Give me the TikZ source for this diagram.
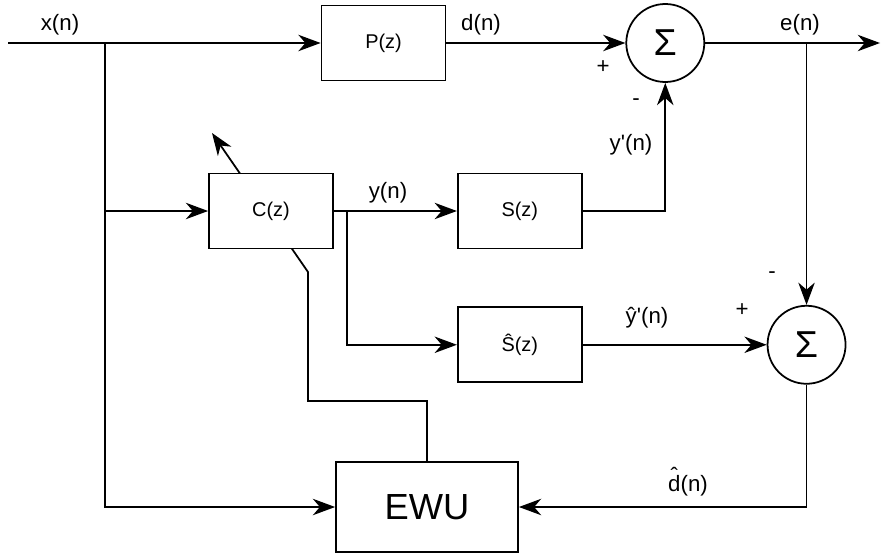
\documentclass[tikz,border=0pt]{standalone}
\usepackage{fontspec}
\setmainfont{Liberation Sans}
\usepackage{tikz}
\usetikzlibrary{arrows.meta, positioning, backgrounds}
\tikzstyle{block} = [rectangle, minimum width=3.72cm, minimum height=2.25cm, text centered, draw=black, fill=white, line width=1.5pt, font=\fontsize{17}{20}\selectfont]
\tikzstyle{sumnode} = [circle, minimum size=2.34cm, inner sep=0pt, draw=black, fill=white, line width=1.5pt, font=\fontsize{32}{36}\selectfont]
\tikzstyle{arrow} = [line width=1.5pt, -{Stealth[length=19pt, width=14pt, inset=6pt]}]
\tikzstyle{signal} = [font=\fontsize{19}{22}\selectfont]
\tikzstyle{sign} = [font=\fontsize{19}{22}\selectfont]
\newcommand{\hatover}[1]{\ooalign{#1\cr\hidewidth\raisebox{0.36em}{\char"02C6}\hidewidth\cr}}

\begin{document}
\begin{tikzpicture}[x=0.03cm, y=-0.03cm, node distance=1.2cm]
    \useasboundingbox (0,0) rectangle (881,556);

    % Blocks
    \node[block] (pz) at (383.5,43) {P(z)};
    \node[block] (cz) at (271,211) {C(z)};
    \node[block, right=3.69cm of cz] (sz) {S(z)};
    \node[block, below=1.71cm of sz] (shz) {Ŝ(z)};
    \node[block, minimum width=5.46cm, minimum height=2.7cm, font=\fontsize{31}{36}\selectfont] (ewu) at (427,507) {EWU};

    % Summing junctions
    \node[sumnode, right=5.37cm of pz] (sum1) {Σ};
    \node[sumnode, right=5.52cm of shz] (sum2) {Σ};

    % Branch points
    \coordinate (xin) at (8,43);
    \coordinate (xsplit) at (105,43);
    \coordinate (ysplit) at (347,211);
    \coordinate (eout) at (880,43);
    \coordinate (esplit) at (sum2 |- sum1);
    \coordinate (tunebend) at (308,401);
    \coordinate (tune) at (308,272);
    \coordinate (tunetip) at (212,133);

    % Arrows
    \draw[arrow] (xin) -- (pz);
    \draw[arrow] (xsplit) |- (cz);
    \draw[arrow] (xsplit) |- (ewu);
    \draw[arrow] (pz) -- (sum1);
    \draw[arrow] (cz) -- (sz);
    \draw[arrow] (ysplit) |- (shz);
    \draw[arrow] (sz) -| (sum1);
    \draw[arrow] (sum1) -- (eout);
    \draw[arrow] (esplit) -- (sum2);
    \draw[arrow] (shz) -- (sum2);
    \draw[arrow] (sum2) |- (ewu);

    % Adaptation path through C(z)
    \begin{scope}[on background layer]
        \draw[arrow] (ewu.north) |- (tunebend) -- (tune) -- (tunetip);
    \end{scope}

    % Signal labels
    \node[signal] (xlabel) at (60,25) {x(n)};
    \node[signal] (dlabel) at (481,25) {d(n)};
    \node[signal] (elabel) at (800,25) {e(n)};
    \node[signal] (ylabel) at (388,193) {y(n)};
    \node[signal] (yplabel) at (631,145) {y\textquotesingle(n)};
    \node[signal] (yhlabel) at (647,318) {ŷ\textquotesingle(n)};
    \node[signal] (dhlabel) at (688,486) {\hatover{d}(n)};

    % Signs
    \node[sign] (plus1) at (603,67) {+};
    \node[sign] (minus1) at (636,102) {-};
    \node[sign] (minus2) at (772,275) {-};
    \node[sign] (plus2) at (742,310) {+};
\end{tikzpicture}
\end{document}
